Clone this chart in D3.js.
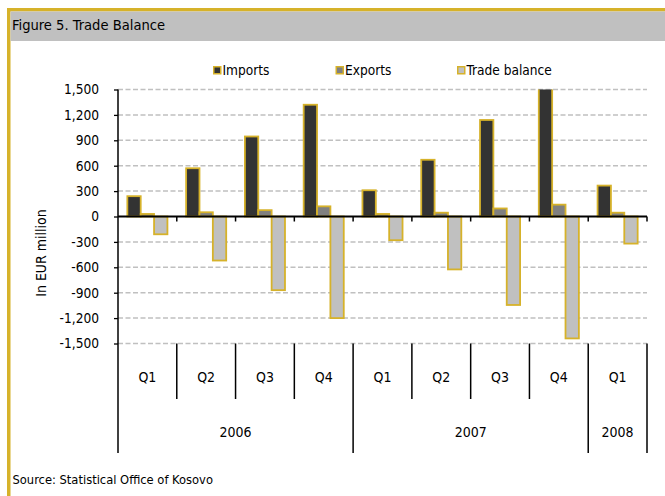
<!DOCTYPE html>
<html>
<head>
<meta charset="utf-8">
<script src="https://cdn.jsdelivr.net/npm/d3@7"></script>
<style>
  html, body { margin: 0; padding: 0; background: #fff; }
  svg { display: block; }
  text { font-family: "DejaVu Sans Condensed", "DejaVu Sans", sans-serif; fill: #000; }
</style>
</head>
<body>
<svg id="chart" width="665" height="496"></svg>
<script>
// Quarterly trade figures, EUR million
const quarters = ["Q1", "Q2", "Q3", "Q4", "Q1", "Q2", "Q3", "Q4", "Q1"];
const yearLabels = ["2006", "2007", "2008"];
const yearSpans = [4, 4, 1];
const imports = [240, 570, 945, 1320, 310, 670, 1140, 1580, 365];
const exports = [30, 50, 75, 120, 30, 45, 95, 140, 45];
const balance = [-210, -520, -870, -1200, -280, -625, -1045, -1440, -320];
const seriesNames = ["Imports", "Exports", "Trade balance"];
const seriesFills = ["#333333", "#808080", "#c0c0c0"];
const yTicks = [-1500, -1200, -900, -600, -300, 0, 300, 600, 900, 1200, 1500];

const gold = "#d6b22a";
const svg = d3.select("#chart");

// Frame: gold rule along top and left, grey title band
svg.append("rect").attr("x", 7).attr("y", 8).attr("width", 658).attr("height", 3.5).attr("fill", gold);
svg.append("rect").attr("x", 7).attr("y", 8).attr("width", 3.5).attr("height", 488).attr("fill", gold);
svg.append("rect").attr("x", 10.5).attr("y", 11.5).attr("width", 654.5).attr("height", 29.5).attr("fill", "#c0c0c0");
svg.append("text").attr("x", 12).attr("y", 30).attr("font-size", 14.6).text("Figure 5. Trade Balance");
svg.append("text").attr("x", 12.5).attr("y", 483.5).attr("font-size", 12.8).text("Source: Statistical Office of Kosovo");

// Plot geometry
const plotLeft = 118, plotRight = 647, plotTop = 89.5, plotBottom = 343.5;
const x = d3.scaleBand().domain(d3.range(quarters.length)).range([plotLeft, plotRight]).padding(0);
const xs = d3.scaleBand().domain(d3.range(3)).range([0, x.bandwidth()]).paddingInner(0).paddingOuter(0.7);
const y = d3.scaleLinear().domain([-1500, 1500]).range([plotBottom, plotTop]);
const fmt = d3.formatLocale({ decimal: ".", thousands: ",", grouping: [3], currency: ["", ""], minus: "-" }).format(",");

// Dashed gridlines
svg.append("g").selectAll("line").data(yTicks.filter(d => d !== 0)).join("line")
  .attr("x1", plotLeft).attr("x2", plotRight)
  .attr("y1", d => y(d)).attr("y2", d => y(d))
  .attr("stroke", "#c0c0c0").attr("stroke-width", 1.5).attr("stroke-dasharray", "5,2.5");

// Bars
const clipId = "plotClip";
svg.append("clipPath").attr("id", clipId).append("rect")
  .attr("x", plotLeft).attr("y", plotTop).attr("width", plotRight - plotLeft).attr("height", plotBottom - plotTop);
const series = [imports, exports, balance];
const bars = svg.append("g").attr("clip-path", `url(#${clipId})`);
series.forEach((vals, s) => {
  bars.append("g").selectAll("rect").data(vals).join("rect")
    .attr("x", (d, i) => x(i) + xs(s))
    .attr("width", xs.bandwidth())
    .attr("y", d => y(Math.max(0, d)))
    .attr("height", d => Math.abs(y(d) - y(0)))
    .attr("fill", seriesFills[s])
    .attr("stroke", gold).attr("stroke-width", 1.8);
});

// Y axis
const yAxis = d3.axisLeft(y).tickValues(yTicks).tickFormat(fmt).tickSize(4).tickPadding(15);
const gy = svg.append("g").attr("transform", `translate(${plotLeft},0)`).call(yAxis);
gy.select(".domain").remove();
gy.selectAll(".tick line").attr("stroke", "#000").attr("stroke-width", 1.3);
gy.selectAll(".tick text").attr("font-size", 13.6).attr("font-family", "'DejaVu Sans Condensed', sans-serif");
svg.append("line").attr("x1", plotLeft).attr("x2", plotLeft).attr("y1", plotTop).attr("y2", 453)
  .attr("stroke", "#000").attr("stroke-width", 1.5);

// Zero line with small ticks at category boundaries
const bounds = d3.range(quarters.length + 1).map(i => i < quarters.length ? x(i) : plotRight);
svg.append("line").attr("x1", plotLeft).attr("x2", plotRight).attr("y1", y(0)).attr("y2", y(0))
  .attr("stroke", "#000").attr("stroke-width", 2);
svg.append("g").selectAll("line").data(bounds.slice(1)).join("line")
  .attr("x1", d => d).attr("x2", d => d).attr("y1", y(0)).attr("y2", y(0) + 5)
  .attr("stroke", "#000").attr("stroke-width", 1.5);

// Category axis: quarter row and year row
const yearStarts = yearSpans.map((n, i) => d3.sum(yearSpans.slice(0, i)));
const yearBounds = yearStarts.concat([quarters.length]);
svg.append("g").selectAll("line").data(d3.range(1, quarters.length).filter(i => !yearBounds.includes(i))).join("line")
  .attr("x1", i => bounds[i]).attr("x2", i => bounds[i]).attr("y1", plotBottom).attr("y2", 399)
  .attr("stroke", "#000").attr("stroke-width", 1.5);
svg.append("g").selectAll("line").data(yearBounds.filter(i => i > 0)).join("line")
  .attr("x1", i => bounds[i]).attr("x2", i => bounds[i]).attr("y1", plotBottom).attr("y2", 453)
  .attr("stroke", "#000").attr("stroke-width", 1.5);
svg.append("g").selectAll("text").data(quarters).join("text")
  .attr("x", (d, i) => x(i) + x.bandwidth() / 2).attr("y", 381.5)
  .attr("text-anchor", "middle").attr("font-size", 14).text(d => d);
svg.append("g").selectAll("text").data(yearLabels).join("text")
  .attr("x", (d, i) => (bounds[yearStarts[i]] + bounds[yearStarts[i] + yearSpans[i]]) / 2).attr("y", 436.5)
  .attr("text-anchor", "middle").attr("font-size", 14).text(d => d);

// Axis title
svg.append("text").attr("transform", "translate(45.5,253) rotate(-90)")
  .attr("text-anchor", "middle").attr("font-size", 14).text("In EUR million");

// Legend
const legendX = [213, 335.5, 457];
const lg = svg.append("g").selectAll("g").data(seriesNames).join("g")
  .attr("transform", (d, i) => `translate(${legendX[i]},66)`);
lg.append("rect").attr("x", 0.75).attr("y", 0.75).attr("width", 7).attr("height", 7)
  .attr("fill", (d, i) => seriesFills[i]).attr("stroke", gold).attr("stroke-width", 1.5);
lg.append("text").attr("x", 9.5).attr("y", 9).attr("font-size", 13.6).text(d => d);
</script>
</body>
</html>
